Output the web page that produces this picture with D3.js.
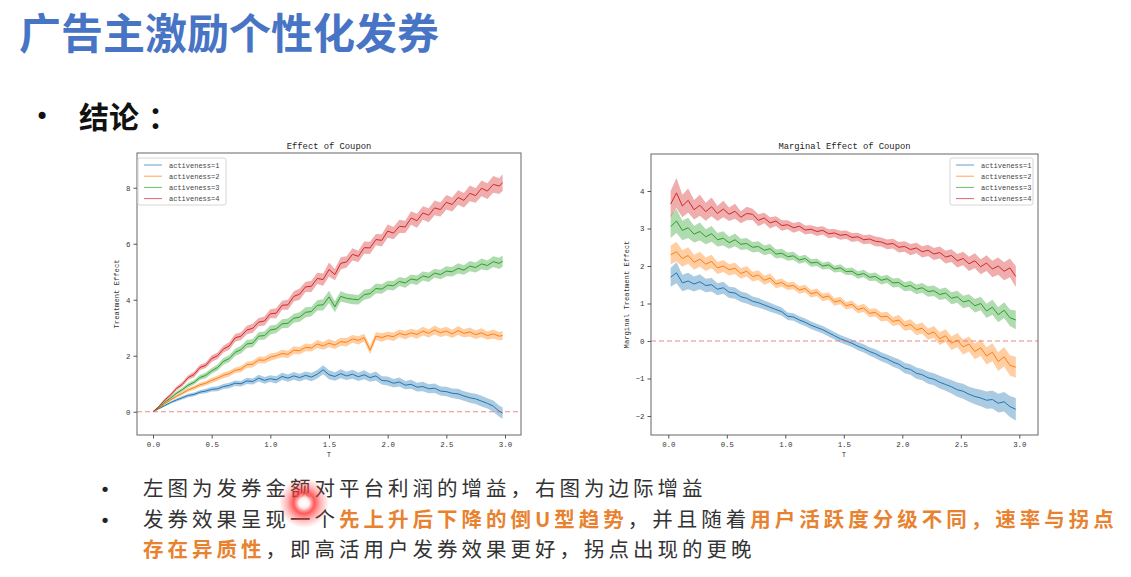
<!DOCTYPE html>
<html><head><meta charset="utf-8">
<script src="https://cdn.jsdelivr.net/npm/d3@7"></script>
<style>body{margin:0;background:#fff}svg{display:block}</style>
</head><body>
<svg id="c" width="1131" height="577"></svg>
<script>
// ---------- DATA ----------
const seriesNames = ["activeness=1", "activeness=2", "activeness=3", "activeness=4"];
const seriesColors = ["#1f77b4", "#ff7f0e", "#2ca02c", "#d62728"];
const xTicks = [0, 0.5, 1.0, 1.5, 2.0, 2.5, 3.0];
const yTicksEffect = [0, 2, 4, 6, 8];
const yTicksMarginal = [-2, -1, 0, 1, 2, 3, 4];

// Left chart: Effect of Coupon
const T1 = [0, 0.05, 0.1, 0.15, 0.2, 0.25, 0.3, 0.35, 0.4, 0.45, 0.5, 0.55, 0.6, 0.65, 0.7, 0.75, 0.8, 0.85, 0.9, 0.95,
  1.0, 1.05, 1.1, 1.15, 1.2, 1.25, 1.3, 1.35, 1.4, 1.45, 1.5, 1.55, 1.6, 1.65, 1.7, 1.75, 1.8, 1.85, 1.9, 1.95,
  2.0, 2.05, 2.1, 2.15, 2.2, 2.25, 2.3, 2.35, 2.4, 2.45, 2.5, 2.55, 2.6, 2.65, 2.7, 2.75, 2.8, 2.85, 2.9, 2.95, 2.98];
const effect1 = [0, 0.11, 0.22, 0.33, 0.42, 0.5, 0.58, 0.62, 0.7, 0.74, 0.8, 0.82, 0.9, 0.94, 1.02, 1.0, 1.1, 1.08, 1.2, 1.12,
  1.18, 1.14, 1.26, 1.2, 1.28, 1.22, 1.3, 1.24, 1.34, 1.5, 1.32, 1.26, 1.36, 1.28, 1.34, 1.25, 1.32, 1.22, 1.28, 1.12,
  1.1, 1.02, 1.06, 0.95, 0.98, 0.88, 0.9, 0.82, 0.84, 0.74, 0.72, 0.66, 0.64, 0.56, 0.5, 0.46, 0.38, 0.3, 0.2, 0.02, -0.05];
const effect2 = [0, 0.13, 0.28, 0.42, 0.55, 0.66, 0.78, 0.86, 0.96, 1.02, 1.12, 1.2, 1.3, 1.36, 1.48, 1.52, 1.68, 1.7, 1.85, 1.84,
  1.95, 2.0, 2.08, 2.05, 2.2, 2.18, 2.3, 2.28, 2.42, 2.35, 2.45, 2.38, 2.5, 2.48, 2.6, 2.55, 2.65, 2.2, 2.7, 2.65,
  2.72, 2.68, 2.8, 2.74, 2.82, 2.76, 2.88, 2.8, 2.92, 2.82, 2.88, 2.78, 2.9, 2.8, 2.85, 2.75, 2.82, 2.72, 2.78, 2.7, 2.72];
const effect3 = [0, 0.15, 0.34, 0.49, 0.66, 0.79, 0.95, 1.05, 1.22, 1.3, 1.46, 1.58, 1.8, 1.9, 2.12, 2.22, 2.42, 2.45, 2.7, 2.72,
  2.92, 2.96, 3.14, 3.16, 3.34, 3.38, 3.55, 3.58, 3.8, 3.82, 4.1, 3.75, 4.12, 4.05, 4.02, 4.0, 4.18, 4.22, 4.4, 4.38,
  4.52, 4.5, 4.65, 4.6, 4.74, 4.7, 4.85, 4.8, 4.95, 4.9, 5.02, 5.0, 5.12, 5.06, 5.2, 5.15, 5.28, 5.22, 5.36, 5.3, 5.38];
const effect4 = [0, 0.19, 0.42, 0.6, 0.83, 0.98, 1.22, 1.33, 1.58, 1.66, 1.9, 2.0, 2.24, 2.35, 2.64, 2.7, 2.92, 2.98, 3.2, 3.24,
  3.5, 3.52, 3.8, 3.82, 4.12, 4.2, 4.46, 4.48, 4.76, 4.72, 5.08, 4.9, 5.3, 5.35, 5.62, 5.55, 5.86, 5.85, 6.15, 6.12,
  6.45, 6.38, 6.62, 6.6, 6.92, 6.82, 7.1, 7.02, 7.28, 7.22, 7.48, 7.4, 7.65, 7.55, 7.8, 7.72, 7.98, 7.88, 8.12, 8.06, 8.18];
const effectBand1 = [0, 0.02, 0.03, 0.04, 0.05, 0.06, 0.06, 0.07, 0.07, 0.08, 0.08, 0.09, 0.09, 0.1, 0.1, 0.1, 0.11, 0.11, 0.12, 0.12,
  0.12, 0.13, 0.13, 0.13, 0.14, 0.14, 0.14, 0.15, 0.15, 0.16, 0.16, 0.15, 0.16, 0.15, 0.16, 0.15, 0.16, 0.15, 0.16, 0.15,
  0.16, 0.15, 0.16, 0.15, 0.16, 0.16, 0.17, 0.16, 0.17, 0.16, 0.17, 0.17, 0.18, 0.17, 0.18, 0.18, 0.19, 0.18, 0.2, 0.2, 0.2];
const effectBand2 = [0, 0.02, 0.03, 0.04, 0.05, 0.06, 0.07, 0.07, 0.08, 0.08, 0.09, 0.09, 0.1, 0.1, 0.1, 0.11, 0.11, 0.12, 0.12, 0.12,
  0.13, 0.12, 0.13, 0.13, 0.14, 0.13, 0.14, 0.13, 0.14, 0.14, 0.15, 0.14, 0.14, 0.15, 0.14, 0.15, 0.14, 0.15, 0.14, 0.15,
  0.14, 0.15, 0.14, 0.15, 0.14, 0.15, 0.16, 0.15, 0.16, 0.15, 0.16, 0.15, 0.16, 0.15, 0.16, 0.15, 0.16, 0.15, 0.16, 0.15, 0.16];
const effectBand3 = [0, 0.02, 0.04, 0.05, 0.06, 0.07, 0.08, 0.08, 0.09, 0.1, 0.1, 0.11, 0.12, 0.12, 0.13, 0.14, 0.14, 0.15, 0.14, 0.15,
  0.16, 0.15, 0.16, 0.17, 0.16, 0.17, 0.18, 0.17, 0.18, 0.2, 0.22, 0.2, 0.18, 0.17, 0.18, 0.17, 0.18, 0.17, 0.18, 0.17,
  0.16, 0.17, 0.16, 0.17, 0.16, 0.17, 0.16, 0.17, 0.16, 0.17, 0.18, 0.17, 0.18, 0.17, 0.18, 0.18, 0.19, 0.18, 0.19, 0.2, 0.2];
const effectBand4 = [0, 0.03, 0.05, 0.06, 0.07, 0.08, 0.08, 0.1, 0.1, 0.1, 0.12, 0.12, 0.12, 0.14, 0.14, 0.14, 0.15, 0.16, 0.15, 0.16,
  0.16, 0.18, 0.16, 0.18, 0.18, 0.2, 0.18, 0.2, 0.2, 0.22, 0.25, 0.2, 0.22, 0.2, 0.22, 0.2, 0.22, 0.22, 0.2, 0.22,
  0.24, 0.22, 0.24, 0.22, 0.24, 0.25, 0.24, 0.25, 0.26, 0.25, 0.26, 0.25, 0.26, 0.26, 0.28, 0.26, 0.28, 0.28, 0.3, 0.28, 0.3];

// Right chart: Marginal Effect of Coupon
const T2 = [0.02, 0.07, 0.12, 0.17, 0.22, 0.27, 0.32, 0.37, 0.42, 0.47, 0.52, 0.57, 0.62, 0.67, 0.72, 0.77, 0.82, 0.87, 0.92, 0.97,
  1.02, 1.07, 1.12, 1.17, 1.22, 1.27, 1.32, 1.37, 1.42, 1.47, 1.52, 1.57, 1.62, 1.67, 1.72, 1.77, 1.82, 1.87, 1.92, 1.97,
  2.02, 2.07, 2.12, 2.17, 2.22, 2.27, 2.32, 2.37, 2.42, 2.47, 2.52, 2.57, 2.62, 2.67, 2.72, 2.77, 2.82, 2.87, 2.92, 2.97];
const marginal1 = [1.7, 1.82, 1.55, 1.6, 1.52, 1.58, 1.48, 1.5, 1.38, 1.42, 1.3, 1.28, 1.18, 1.14, 1.06, 1.02, 0.96, 0.9, 0.84, 0.78,
  0.66, 0.64, 0.56, 0.5, 0.42, 0.36, 0.3, 0.22, 0.14, 0.06, 0.0, -0.06, -0.14, -0.2, -0.28, -0.34, -0.42, -0.48, -0.56, -0.62,
  -0.72, -0.76, -0.86, -0.9, -0.98, -1.02, -1.1, -1.16, -1.22, -1.3, -1.34, -1.42, -1.48, -1.52, -1.58, -1.56, -1.66, -1.62, -1.75, -1.82];
const marginal2 = [2.3, 2.38, 2.2, 2.28, 2.1, 2.18, 2.05, 2.12, 1.95, 2.0, 1.9, 1.94, 1.8, 1.86, 1.72, 1.76, 1.62, 1.68, 1.52, 1.56,
  1.46, 1.48, 1.36, 1.4, 1.26, 1.3, 1.16, 1.2, 1.04, 1.08, 0.94, 0.98, 0.84, 0.88, 0.74, 0.76, 0.64, 0.66, 0.52, 0.56,
  0.4, 0.44, 0.3, 0.34, 0.18, 0.24, 0.06, 0.14, -0.06, 0.02, -0.16, -0.08, -0.28, -0.18, -0.4, -0.3, -0.55, -0.42, -0.65, -0.7];
const marginal3 = [3.05, 3.2, 2.95, 3.02, 2.85, 2.92, 2.78, 2.86, 2.7, 2.74, 2.62, 2.7, 2.58, 2.6, 2.5, 2.52, 2.42, 2.46, 2.32, 2.34,
  2.25, 2.27, 2.16, 2.2, 2.08, 2.1, 2.0, 2.03, 1.92, 1.95, 1.85, 1.86, 1.76, 1.8, 1.7, 1.72, 1.62, 1.66, 1.55, 1.56,
  1.45, 1.48, 1.38, 1.42, 1.32, 1.34, 1.24, 1.28, 1.14, 1.18, 1.04, 1.08, 0.94, 1.0, 0.8, 0.9, 0.7, 0.82, 0.62, 0.56];
const marginal4 = [3.65, 3.95, 3.6, 3.75, 3.5, 3.62, 3.45, 3.58, 3.4, 3.52, 3.38, 3.46, 3.3, 3.4, 3.38, 3.22, 3.28, 3.15, 3.2, 3.08,
  3.1, 3.02, 3.06, 2.96, 2.98, 2.92, 2.95, 2.86, 2.88, 2.82, 2.84, 2.76, 2.78, 2.7, 2.72, 2.66, 2.64, 2.58, 2.6, 2.5,
  2.52, 2.44, 2.48, 2.38, 2.42, 2.32, 2.36, 2.24, 2.28, 2.14, 2.2, 2.06, 2.14, 1.98, 2.08, 1.92, 2.0, 1.86, 1.95, 1.72];
const marginalBand1 = [0.25, 0.28, 0.22, 0.22, 0.2, 0.2, 0.18, 0.18, 0.16, 0.16, 0.15, 0.15, 0.14, 0.14, 0.13, 0.13, 0.12, 0.12, 0.11, 0.11,
  0.1, 0.1, 0.1, 0.1, 0.1, 0.1, 0.1, 0.1, 0.1, 0.1, 0.1, 0.1, 0.11, 0.11, 0.11, 0.12, 0.12, 0.12, 0.13, 0.13,
  0.14, 0.14, 0.15, 0.15, 0.16, 0.16, 0.17, 0.17, 0.18, 0.19, 0.2, 0.2, 0.21, 0.22, 0.23, 0.24, 0.25, 0.26, 0.28, 0.3];
const marginalBand2 = [0.25, 0.26, 0.22, 0.22, 0.2, 0.2, 0.18, 0.18, 0.16, 0.16, 0.15, 0.15, 0.14, 0.14, 0.13, 0.13, 0.12, 0.12, 0.11, 0.11,
  0.1, 0.1, 0.1, 0.1, 0.1, 0.1, 0.1, 0.1, 0.1, 0.1, 0.1, 0.1, 0.1, 0.11, 0.11, 0.11, 0.12, 0.12, 0.12, 0.13,
  0.13, 0.14, 0.14, 0.15, 0.15, 0.16, 0.17, 0.17, 0.18, 0.19, 0.2, 0.2, 0.21, 0.22, 0.23, 0.24, 0.25, 0.26, 0.27, 0.28];
const marginalBand3 = [0.3, 0.32, 0.26, 0.27, 0.22, 0.24, 0.2, 0.21, 0.18, 0.19, 0.16, 0.17, 0.15, 0.15, 0.14, 0.14, 0.13, 0.13, 0.12, 0.12,
  0.11, 0.11, 0.1, 0.1, 0.1, 0.1, 0.09, 0.1, 0.09, 0.1, 0.09, 0.1, 0.1, 0.1, 0.1, 0.11, 0.11, 0.11, 0.12, 0.12,
  0.12, 0.13, 0.13, 0.13, 0.14, 0.14, 0.15, 0.15, 0.16, 0.16, 0.17, 0.17, 0.18, 0.18, 0.19, 0.2, 0.2, 0.21, 0.22, 0.25];
const marginalBand4 = [0.35, 0.4, 0.3, 0.32, 0.26, 0.28, 0.24, 0.25, 0.2, 0.22, 0.18, 0.2, 0.16, 0.18, 0.15, 0.16, 0.14, 0.15, 0.13, 0.14,
  0.12, 0.13, 0.12, 0.12, 0.11, 0.12, 0.11, 0.12, 0.11, 0.12, 0.11, 0.12, 0.11, 0.12, 0.12, 0.13, 0.12, 0.13, 0.13, 0.14,
  0.14, 0.15, 0.14, 0.15, 0.15, 0.16, 0.16, 0.17, 0.17, 0.18, 0.18, 0.19, 0.2, 0.2, 0.21, 0.22, 0.23, 0.24, 0.25, 0.28];

// Slide texts
const slideTitle = "广告主激励个性化发券";
const sectionLabel = "结论";
const sectionColon = "：";
const noteLine1 = [{t: "左图为发券金额对平台利润的增益，右图为边际增益", hl: false}];
const noteLine2 = [
  {t: "发券效果呈现一个", hl: false},
  {t: "先上升后下降的倒U型趋势", hl: true},
  {t: "，并且随着", hl: false},
  {t: "用户活跃度分级不同，速率与拐点", hl: true}];
const noteLine3 = [
  {t: "存在异质性", hl: true},
  {t: "，即高活用户发券效果更好，拐点出现的更晚", hl: false}];

// ---------- DRAW ----------
const svg = d3.select("#c");
svg.append("rect").attr("width", 1131).attr("height", 577).attr("fill", "#fff");

const CJK = "'Noto Sans CJK SC','Noto Sans',sans-serif";
const MONO = "'Liberation Mono','DejaVu Sans Mono',monospace";
const BUL = "'DejaVu Sans',sans-serif";

// Title
svg.append("text").attr("x", 19).attr("y", 49)
  .attr("font-family", CJK).attr("font-weight", 700).attr("font-size", 42)
  .attr("fill", "#4874c5").text(slideTitle);

// Section label
svg.append("text").attr("x", 42).attr("y", 125).attr("text-anchor", "middle")
  .attr("font-family", BUL).attr("font-size", 24).attr("fill", "#111").text("•");
const sec = svg.append("text").attr("x", 79).attr("y", 128)
  .attr("font-family", CJK).attr("font-weight", 700).attr("font-size", 30)
  .attr("fill", "#111");
sec.append("tspan").text(sectionLabel);
sec.append("tspan").attr("dx", 9).text(sectionColon);

function drawChart(cfg) {
  const g = svg.append("g");
  const x = d3.scaleLinear().domain(cfg.xDomain).range([cfg.left, cfg.right]);
  const y = d3.scaleLinear().domain(cfg.yDomain).range([cfg.bottom, cfg.top]);

  const clipId = cfg.id + "-clip";
  g.append("clipPath").attr("id", clipId).append("rect")
    .attr("x", cfg.left).attr("y", cfg.top)
    .attr("width", cfg.right - cfg.left).attr("height", cfg.bottom - cfg.top);
  const plot = g.append("g").attr("clip-path", `url(#${clipId})`);

  cfg.series.forEach((s, i) => {
    const pts = cfg.T.map((t, j) => ({t, v: s.values[j], b: s.band[j]}));
    plot.append("path").datum(pts)
      .attr("d", d3.area().x(d => x(d.t)).y0(d => y(d.v - d.b)).y1(d => y(d.v + d.b)))
      .attr("fill", seriesColors[i]).attr("fill-opacity", 0.38);
    plot.append("path").datum(pts)
      .attr("d", d3.line().x(d => x(d.t)).y(d => y(d.v)))
      .attr("fill", "none").attr("stroke", seriesColors[i]).attr("stroke-width", 1)
      .attr("stroke-linejoin", "round");
  });

  // zero reference line
  plot.append("line")
    .attr("x1", cfg.left).attr("x2", cfg.right)
    .attr("y1", y(0)).attr("y2", y(0))
    .attr("stroke", "#e06666").attr("stroke-opacity", 0.75).attr("stroke-width", 1)
    .attr("stroke-dasharray", "5,3");

  // frame
  g.append("rect").attr("x", cfg.left).attr("y", cfg.top)
    .attr("width", cfg.right - cfg.left).attr("height", cfg.bottom - cfg.top)
    .attr("fill", "none").attr("stroke", "#666").attr("stroke-width", 1);

  // axes
  const xa = g.append("g").attr("transform", `translate(0,${cfg.bottom})`)
    .call(d3.axisBottom(x).tickValues(xTicks).tickFormat(d3.format(".1f")).tickSize(3.5).tickPadding(3));
  const ya = g.append("g").attr("transform", `translate(${cfg.left},0)`)
    .call(d3.axisLeft(y).tickValues(cfg.yTicks).tickFormat(d => d < 0 ? "−" + Math.abs(d) : d).tickSize(3.5).tickPadding(3));
  [xa, ya].forEach(a => {
    a.select(".domain").remove();
    a.selectAll("line").attr("stroke", "#555");
    a.selectAll("text").attr("font-family", MONO).attr("font-size", 7.4).attr("fill", "#333");
  });

  // title & labels
  g.append("text").attr("x", (cfg.left + cfg.right) / 2).attr("y", 149)
    .attr("text-anchor", "middle").attr("font-family", MONO).attr("font-size", 8.8)
    .attr("fill", "#222").text(cfg.title);
  g.append("text").attr("x", x(1.5)).attr("y", 457)
    .attr("text-anchor", "middle").attr("font-family", MONO).attr("font-size", 7.2)
    .attr("fill", "#333").text("T");
  g.append("text")
    .attr("transform", `translate(${cfg.ylabelX},${(cfg.top + cfg.bottom) / 2}) rotate(-90)`)
    .attr("text-anchor", "middle").attr("font-family", MONO).attr("font-size", 7.2)
    .attr("fill", "#333").text(cfg.ylabel);

  // legend
  const L = cfg.legend;
  g.append("rect").attr("x", L.x).attr("y", L.y).attr("width", L.w).attr("height", L.h)
    .attr("rx", 2).attr("fill", "#fff").attr("fill-opacity", 0.8)
    .attr("stroke", "#d6d6d6").attr("stroke-width", 1);
  seriesNames.forEach((name, i) => {
    const yy = L.y + 7 + i * 11.2;
    g.append("line").attr("x1", L.x + 6).attr("x2", L.x + 24).attr("y1", yy).attr("y2", yy)
      .attr("stroke", seriesColors[i]).attr("stroke-width", 1).attr("stroke-opacity", 0.7);
    g.append("text").attr("x", L.x + 31).attr("y", yy + 2.5)
      .attr("font-family", MONO).attr("font-size", 7).attr("fill", "#444").text(name);
  });
}

drawChart({
  id: "effect", left: 137, right: 521, top: 153, bottom: 435,
  xDomain: [-0.1364, 3.1364], yDomain: [-0.83, 9.24],
  T: T1, yTicks: yTicksEffect,
  title: "Effect of Coupon", ylabel: "Treatment Effect", ylabelX: 119,
  legend: {x: 138, y: 158, w: 88, h: 47},
  series: [
    {values: effect1, band: effectBand1},
    {values: effect2, band: effectBand2},
    {values: effect3, band: effectBand3},
    {values: effect4, band: effectBand4}]
});

drawChart({
  id: "marginal", left: 651, right: 1038, top: 154, bottom: 435,
  xDomain: [-0.1479, 3.1598], yDomain: [-2.507, 4.987],
  T: T2, yTicks: yTicksMarginal,
  title: "Marginal Effect of Coupon", ylabel: "Marginal Treatment Effect", ylabelX: 629,
  legend: {x: 950, y: 158, w: 83, h: 47},
  series: [
    {values: marginal1, band: marginalBand1},
    {values: marginal2, band: marginalBand2},
    {values: marginal3, band: marginalBand3},
    {values: marginal4, band: marginalBand4}]
});

// Notes
const notes = [
  {segs: noteLine1, y: 496, bullet: true},
  {segs: noteLine2, y: 527, bullet: true},
  {segs: noteLine3, y: 557, bullet: false}];
notes.forEach(n => {
  if (n.bullet) {
    svg.append("text").attr("x", 105).attr("y", n.y).attr("text-anchor", "middle")
      .attr("font-family", BUL).attr("font-size", 18).attr("fill", "#222").text("•");
  }
  const t = svg.append("text").attr("x", 143).attr("y", n.y)
    .attr("font-family", CJK).attr("font-size", 20.5).attr("letter-spacing", 4);
  n.segs.forEach(s => {
    t.append("tspan").attr("fill", s.hl ? "#e8822f" : "#333")
      .attr("font-weight", s.hl ? 700 : 400).text(s.t);
  });
});

// laser pointer glow
const defs = svg.append("defs");
const rg = defs.append("radialGradient").attr("id", "laser");
rg.append("stop").attr("offset", "0%").attr("stop-color", "#fff").attr("stop-opacity", 1);
rg.append("stop").attr("offset", "20%").attr("stop-color", "#fff0f0").attr("stop-opacity", 0.95);
rg.append("stop").attr("offset", "42%").attr("stop-color", "#ff3030").attr("stop-opacity", 0.8);
rg.append("stop").attr("offset", "70%").attr("stop-color", "#ff4040").attr("stop-opacity", 0.35);
rg.append("stop").attr("offset", "100%").attr("stop-color", "#ff4040").attr("stop-opacity", 0);
svg.append("circle").attr("cx", 304).attr("cy", 503).attr("r", 25).attr("fill", "url(#laser)");
</script>
</body></html>
